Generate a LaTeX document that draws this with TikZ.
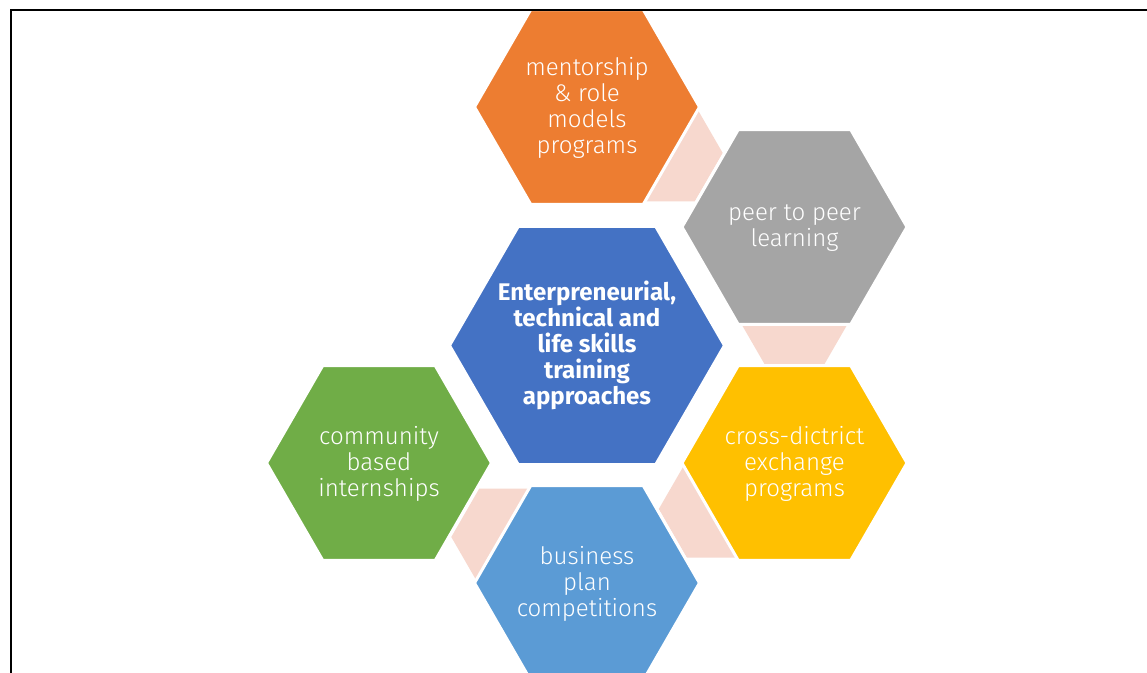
\documentclass[tikz,border=0pt]{standalone}
\usepackage{fontspec}
\setmainfont{Fira Sans}[UprightFont=* Light, BoldFont=* Bold]
\definecolor{hexorange}{HTML}{ED7D31}
\definecolor{hexgray}{HTML}{A5A5A5}
\definecolor{hexyellow}{HTML}{FFC000}
\definecolor{hexsky}{HTML}{5B9BD5}
\definecolor{hexgreen}{HTML}{70AD47}
\definecolor{hexblue}{HTML}{4472C4}
\definecolor{linkpink}{HTML}{F7D8CE}
% flat-topped hexagon: style, centre x, centre y, circumradius
\newcommand\hexagonat[4]{%
  \path[#1] ({#2+#4},{#3}) -- ({#2+0.5*#4},{#3+0.866*#4})
    -- ({#2-0.5*#4},{#3+0.866*#4}) -- ({#2-#4},{#3})
    -- ({#2-0.5*#4},{#3-0.866*#4}) -- ({#2+0.5*#4},{#3-0.866*#4}) -- cycle;}
\begin{document}
\begin{tikzpicture}[x=0.02cm,y=-0.02cm,
  hexcell/.style={fill=#1, draw=white, line width=0.06cm, line join=miter},
  linkcell/.style={fill=linkpink},
  celltext/.style={text=white, align=center, inner sep=0pt,
    font=\fontsize{13.7}{14.8}\selectfont},
  frameline/.style={draw=black, line width=0.04cm}]
\useasboundingbox (0,0) rectangle (1147,673);
\clip (0,0) rectangle (1147,673);
\fill[white] (0,0) rectangle (1147,673);

% small linking hexagons, partly hidden behind the outer cells
\hexagonat{linkcell}{666.7}{153}{56}
\hexagonat{linkcell}{794.5}{319}{56}
\hexagonat{linkcell}{714.8}{509}{56}
\hexagonat{linkcell}{507.3}{537}{56}

% outer cells
\hexagonat{hexcell=hexorange}{587}{107}{112.5}
\hexagonat{hexcell=hexgray}{794.5}{227}{112.5}
\hexagonat{hexcell=hexyellow}{794.5}{463}{112.5}
\hexagonat{hexcell=hexsky}{587}{583}{112.5}
\hexagonat{hexcell=hexgreen}{379}{463}{112.5}
% central cell
\hexagonat{hexcell=hexblue}{587}{345.5}{137.5}

\node[celltext] (mentor) at (587,107.5) {mentorship\\ \& role\\ models\\ programs};
\node[celltext] (peer) at (794.5,228) {peer to peer\\ learning};
\node[celltext] (exchange) at (794.5,463.5) {cross-dictrict\\ exchange\\ programs};
\node[celltext] (business) at (587,583.5) {business\\ plan\\ competitions};
\node[celltext] (intern) at (379,463.5) {community\\ based\\ internships};
\node[celltext, font=\fontsize{13.7}{14.8}\selectfont\bfseries] (core) at (587,345)
  {Enterpreneurial,\\ technical and\\ life skills\\ training\\ approaches};

% frame
\draw[frameline] (1160,10) -- (11,10) -- (11,690);
\end{tikzpicture}
\end{document}
